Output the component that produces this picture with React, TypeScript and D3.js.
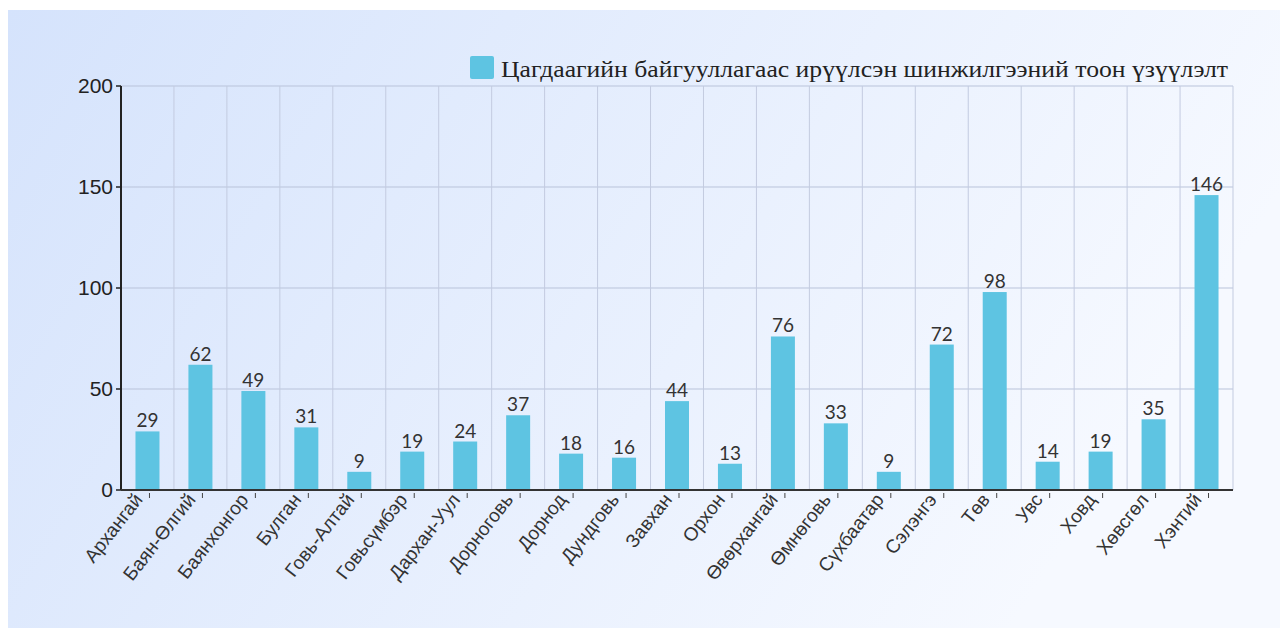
import React from "react";
import * as d3 from "d3";

const categories = [
  "Архангай", "Баян-Өлгий", "Баянхонгор", "Булган", "Говь-Алтай", "Говьсүмбэр",
  "Дархан-Уул", "Дорноговь", "Дорнод", "Дундговь", "Завхан", "Орхон",
  "Өвөрхангай", "Өмнөговь", "Сүхбаатар", "Сэлэнгэ", "Төв", "Увс", "Ховд",
  "Хөвсгөл", "Хэнтий",
];
const values = [29, 62, 49, 31, 9, 19, 24, 37, 18, 16, 44, 13, 76, 33, 9, 72, 98, 14, 19, 35, 146];
const yTicks = [0, 50, 100, 150, 200];
const legendLabel = "Цагдаагийн байгууллагаас ирүүлсэн шинжилгээний тоон үзүүлэлт";

const W = 1280;
const H = 628;
const left = 121;
const right = 1233;
const top = 86;
const bottom = 490;

export default function App() {
  const x = d3.scaleBand<string>().domain(categories).range([left, right]).paddingInner(0).paddingOuter(0);
  const y = d3.scaleLinear().domain([0, 200]).range([bottom, top]);
  const bw = 24;
  const bounds = categories.map((c) => x(c)!).concat([right]);

  return (
    <svg width={W} height={H} style={{ position: "absolute", left: 0, top: 0 }}>
      <defs>
        <linearGradient id="bg" x1="0" y1="0" x2="1" y2="0.3">
          <stop offset="0" stopColor="#d5e3fc" />
          <stop offset="1" stopColor="#f6f9ff" />
        </linearGradient>
      </defs>
      <rect x={0} y={0} width={W} height={H} fill="#ffffff" />
      <rect x={8} y={10} width={W - 8} height={H - 10} fill="url(#bg)" />

      {/* gridlines */}
      {yTicks.map((t) => (
        <line key={"h" + t} x1={left} x2={right} y1={y(t)} y2={y(t)} stroke="#b9c3da" strokeWidth={1} />
      ))}
      {bounds.slice(1).map((b, i) => (
        <line key={"v" + i} x1={b} x2={b} y1={top} y2={bottom} stroke="#c3cbe0" strokeWidth={1} />
      ))}

      {/* bars */}
      {categories.map((c, i) => {
        const cx = x(c)! + x.bandwidth() / 2;
        return (
          <g key={c}>
            <rect x={cx - bw / 2} y={y(values[i])} width={bw} height={bottom - y(values[i])} fill="#5ec4e2" />
            <text
              x={cx}
              y={y(values[i]) - 4}
              textAnchor="middle"
              fontFamily="Lato, sans-serif"
              fontSize={19}
              fill="#333"
            >
              {values[i]}
            </text>
            <line x1={cx + 2} x2={cx + 2} y1={bottom + 3} y2={bottom + 8} stroke="#444" strokeWidth={1} />
            <text
              transform={`translate(${cx - 4},${bottom + 10}) rotate(-52)`}
              textAnchor="end"
              fontFamily="'Liberation Sans', Arial, sans-serif"
              fontSize={19}
              fill="#333"
            >
              {c}
            </text>
          </g>
        );
      })}

      {/* axes */}
      <line x1={left} x2={left} y1={top} y2={bottom} stroke="#222" strokeWidth={2} />
      <line x1={left} x2={right} y1={bottom} y2={bottom} stroke="#333" strokeWidth={2} />
      {yTicks.map((t) => (
        <g key={"t" + t}>
          <line x1={left - 5} x2={left} y1={y(t)} y2={y(t)} stroke="#222" strokeWidth={1.5} />
          <text
            x={left - 8}
            y={y(t)}
            dy="0.35em"
            textAnchor="end"
            fontFamily="'Liberation Sans', Arial, sans-serif"
            fontSize={21}
            fill="#222"
          >
            {t}
          </text>
        </g>
      ))}

      {/* legend */}
      <rect x={470} y={56} width={24} height={23} rx={2} fill="#5ec4e2" />
      <text
        x={501}
        y={77}
        fontFamily="'Liberation Serif', 'Times New Roman', serif"
        fontSize={24}
        textLength={727}
        lengthAdjust="spacingAndGlyphs"
        fill="#222"
      >
        {legendLabel}
      </text>
    </svg>
  );
}
